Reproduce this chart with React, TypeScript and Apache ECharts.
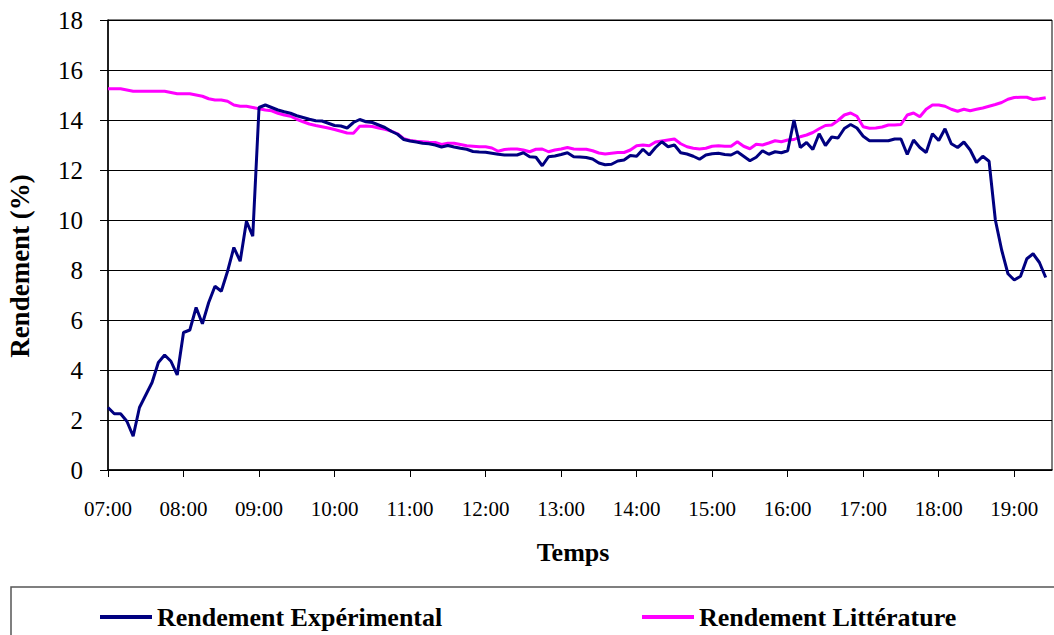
import React, { useEffect, useRef } from "react";
import * as echarts from "echarts";

const startMinutes = 7 * 60;
const stepMinutes = 5;
const categoryCount = 151; // 07:00 .. 19:30

const experimental = [
  2.5, 2.25, 2.25, 1.95, 1.35, 2.5, 3.0, 3.5, 4.3, 4.6,
  4.35, 3.8, 5.5, 5.6, 6.5, 5.85, 6.7, 7.35, 7.15, 7.95,
  8.9, 8.35, 9.95, 9.35, 14.5, 14.6, 14.5, 14.4, 14.33, 14.27,
  14.17, 14.1, 14.03, 13.97, 13.96, 13.87, 13.78, 13.76, 13.68, 13.9,
  14.02, 13.93, 13.9, 13.8, 13.7, 13.55, 13.43, 13.22, 13.16, 13.12,
  13.07, 13.05, 13.0, 12.92, 12.98, 12.92, 12.87, 12.83, 12.74, 12.72,
  12.71, 12.67, 12.63, 12.6, 12.6, 12.6, 12.69, 12.53, 12.51, 12.17,
  12.53, 12.56, 12.62, 12.69, 12.53, 12.52, 12.5, 12.44, 12.28, 12.21,
  12.23, 12.36, 12.4, 12.58, 12.55, 12.83, 12.6, 12.9, 13.13, 12.93,
  13.0, 12.69, 12.64, 12.55, 12.43, 12.6, 12.65, 12.67, 12.62, 12.6,
  12.73, 12.55, 12.37, 12.51, 12.77, 12.63, 12.73, 12.69, 12.77, 14.0,
  12.9, 13.1, 12.82, 13.45, 12.98, 13.32, 13.28, 13.66, 13.82, 13.68,
  13.35, 13.17, 13.17, 13.17, 13.17, 13.24, 13.24, 12.62, 13.2, 12.9,
  12.7, 13.45, 13.18, 13.65, 13.05, 12.9, 13.12, 12.8, 12.3, 12.55,
  12.35, 10.0, 8.8, 7.85, 7.6, 7.75, 8.45, 8.65, 8.3, 7.7,
];

const literature = [
  15.25, 15.25, 15.25, 15.2, 15.15, 15.15, 15.15, 15.15, 15.15, 15.15,
  15.1, 15.05, 15.05, 15.05, 15.0, 14.95, 14.85, 14.8, 14.8, 14.75,
  14.6, 14.55, 14.55, 14.5, 14.45, 14.4, 14.37, 14.27, 14.2, 14.15,
  14.03, 13.93, 13.84, 13.78, 13.73, 13.68, 13.62, 13.55, 13.48, 13.47,
  13.75, 13.76, 13.74, 13.68, 13.63, 13.56, 13.45, 13.25, 13.18, 13.15,
  13.13, 13.11, 13.1, 13.02, 13.07, 13.07, 13.02, 12.97, 12.95, 12.93,
  12.93, 12.88, 12.75, 12.82, 12.84, 12.84, 12.8, 12.73, 12.83, 12.84,
  12.73, 12.8, 12.84, 12.9, 12.84, 12.83, 12.83, 12.77, 12.68, 12.64,
  12.67, 12.7, 12.7, 12.8, 12.97, 13.0, 12.97, 13.12, 13.16, 13.2,
  13.24, 13.05, 12.93, 12.87, 12.84, 12.87, 12.95, 12.97, 12.95, 12.95,
  13.13, 12.95, 12.85, 13.03, 13.0, 13.08, 13.17, 13.13, 13.2, 13.22,
  13.33, 13.4, 13.5, 13.65, 13.78, 13.8, 13.98, 14.2, 14.28, 14.15,
  13.73, 13.67, 13.68, 13.72, 13.8, 13.8, 13.82, 14.2, 14.28, 14.13,
  14.43, 14.6, 14.6, 14.55, 14.43, 14.35, 14.43, 14.37, 14.43, 14.48,
  14.55, 14.62, 14.7, 14.83, 14.9, 14.91, 14.91, 14.82, 14.85, 14.89,
];

const pad = (n: number) => (n < 10 ? "0" + n : "" + n);
const timeLabels: string[] = [];
for (let i = 0; i < categoryCount; i++) {
  const m = startMinutes + i * stepMinutes;
  timeLabels.push(pad(Math.floor(m / 60)) + ":" + pad(m % 60));
}

const seriesNames = ["Rendement Expérimental", "Rendement Littérature"];
const seriesColors = ["#000080", "#FF00FF"];

const SERIF = "'Times New Roman', 'Liberation Serif', 'DejaVu Serif', serif";

export default function App() {
  const ref = useRef<HTMLDivElement>(null);

  useEffect(() => {
    document.body.style.margin = "0";
    if (!ref.current) return;
    const chart = echarts.init(ref.current, undefined, { renderer: "svg" });
    const isHour = (idx: number) => idx % 12 === 0;
    const legendText = {
      fontFamily: SERIF,
      fontWeight: "bold",
      fontSize: 26,
      color: "#000",
    };
    chart.setOption({
      animation: false,
      backgroundColor: "#ffffff",
      textStyle: { fontFamily: SERIF },
      grid: {
        left: 108,
        right: 2,
        top: 20,
        bottom: 165,
        show: true,
        borderColor: "#000",
        borderWidth: 1,
        backgroundColor: "transparent",
      },
      legend: [
        {
          left: 95,
          top: 599,
          data: [seriesNames[0]],
          icon: "rect",
          itemWidth: 52,
          itemHeight: 4,
          itemGap: 0,
          textStyle: legendText,
        },
        {
          left: 637,
          top: 599,
          data: [seriesNames[1]],
          icon: "rect",
          itemWidth: 52,
          itemHeight: 4,
          itemGap: 0,
          textStyle: legendText,
        },
      ],
      xAxis: {
        type: "category",
        data: timeLabels,
        boundaryGap: false,
        name: "Temps",
        nameLocation: "middle",
        nameGap: 69,
        nameTextStyle: {
          fontFamily: SERIF,
          fontWeight: "bold",
          fontSize: 26,
          color: "#000",
          padding: [0, 14, 0, 0],
        },
        axisLine: { lineStyle: { color: "#000", width: 1.5 } },
        axisTick: {
          show: true,
          interval: (idx: number) => isHour(idx),
          length: 7,
          lineStyle: { color: "#000" },
        },
        axisLabel: {
          interval: (idx: number) => isHour(idx),
          margin: 28,
          fontFamily: SERIF,
          fontSize: 21,
          color: "#000",
        },
        splitLine: { show: false },
      },
      yAxis: {
        type: "value",
        min: 0,
        max: 18,
        interval: 2,
        axisLine: { show: true, lineStyle: { color: "#000", width: 1.5 } },
        axisTick: { show: true, length: 8, lineStyle: { color: "#000" } },
        axisLabel: {
          margin: 25,
          fontFamily: SERIF,
          fontSize: 25,
          color: "#000",
        },
        splitLine: { show: true, lineStyle: { color: "#000", width: 1 } },
      },
      graphic: [
        {
          type: "text",
          x: 20,
          y: 266,
          rotation: Math.PI / 2,
          style: {
            text: "Rendement (%)",
            fontFamily: SERIF,
            fontWeight: "bold",
            fontSize: 27,
            fill: "#000",
            align: "center",
            verticalAlign: "middle",
          },
        },
        {
          type: "rect",
          shape: { x: 11, y: 587, width: 1100, height: 100 },
          style: { fill: "none", stroke: "#555", lineWidth: 1.5 },
          silent: true,
        },
      ],
      series: [
        {
          name: seriesNames[1],
          type: "line",
          data: literature,
          showSymbol: false,
          symbol: "none",
          lineStyle: { color: seriesColors[1], width: 3 },
          itemStyle: { color: seriesColors[1] },
          z: 2,
        },
        {
          name: seriesNames[0],
          type: "line",
          data: experimental,
          showSymbol: false,
          symbol: "none",
          lineStyle: { color: seriesColors[0], width: 3 },
          itemStyle: { color: seriesColors[0] },
          z: 3,
        },
      ],
    });
    return () => chart.dispose();
  }, []);

  return <div ref={ref} style={{ width: 1054, height: 635 }} />;
}
